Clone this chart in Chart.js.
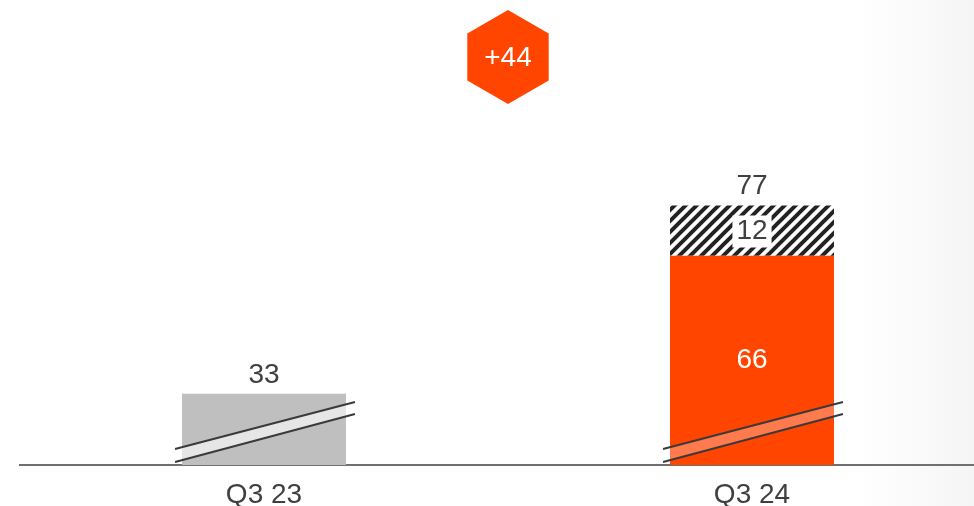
<!DOCTYPE html>
<html>
<head>
<meta charset="utf-8">
<script src="https://cdn.jsdelivr.net/npm/chart.js@4/dist/chart.umd.min.js"></script>
<style>
html, body { margin: 0; padding: 0; }
body {
  width: 974px; height: 506px; overflow: hidden;
  background: linear-gradient(to right, #ffffff 0%, #ffffff 88%, #f5f5f5 100%);
}
#wrap { position: relative; width: 1000px; height: 506px; overflow: hidden; }
</style>
</head>
<body>
<div id="wrap"><canvas id="grafico" width="1000" height="525"></canvas></div>
<script>
// datos
var categorias = ["Q3 23", "Q3 24"];
var valoresBase = [33, 66];
var valoresRayados = [null, 12];
var totales = [33, 77];
var diferencia = "+44";

var gris = "#bfbfbf";
var naranja = "#ff4500";
var texto = "#404040";
var fuente = "'Liberation Sans', Arial, sans-serif";

// patron rayado
function rayado() {
  var c = document.createElement("canvas");
  c.width = 11; c.height = 11;
  var g = c.getContext("2d");
  g.fillStyle = "#ffffff";
  g.fillRect(0, 0, 11, 11);
  g.strokeStyle = "#222222";
  g.lineWidth = 4;
  g.beginPath();
  g.moveTo(-2, 13); g.lineTo(13, -2);
  g.moveTo(-8, 8); g.lineTo(8, -8);
  g.moveTo(3, 19); g.lineTo(19, 3);
  g.stroke();
  return g.createPattern(c, "repeat");
}

var etiquetas = {
  id: "etiquetas",
  afterDatasetsDraw: function(chart) {
    var ctx = chart.ctx;
    var area = chart.chartArea;
    var base = chart.getDatasetMeta(0).data;
    var raya = chart.getDatasetMeta(1).data;
    ctx.save();

    // cortes del eje
    base.forEach(function(bar, i) {
      var izq = bar.x - bar.width / 2 - 7;
      var der = bar.x + bar.width / 2 + 9;
      var y0 = area.bottom;
      ctx.fillStyle = i === 0 ? "#e6e6e6" : "#ff7a4d";
      ctx.save();
      ctx.beginPath();
      ctx.rect(bar.x - bar.width / 2, area.top, bar.width, area.bottom - area.top);
      ctx.clip();
      ctx.beginPath();
      ctx.moveTo(izq, y0 - 16);
      ctx.lineTo(der, y0 - 63);
      ctx.lineTo(der, y0 - 51);
      ctx.lineTo(izq, y0 - 3);
      ctx.closePath();
      ctx.fill();
      ctx.restore();
      ctx.strokeStyle = "#3a3a3a";
      ctx.lineWidth = 2;
      ctx.beginPath();
      ctx.moveTo(izq, y0 - 16); ctx.lineTo(der, y0 - 63);
      ctx.moveTo(izq, y0 - 3); ctx.lineTo(der, y0 - 51);
      ctx.stroke();
    });

    ctx.font = "28px " + fuente;
    ctx.textAlign = "center";
    ctx.textBaseline = "middle";

    // totales arriba
    base.forEach(function(bar, i) {
      var top = valoresRayados[i] ? raya[i].y : bar.y;
      ctx.fillStyle = texto;
      ctx.fillText(String(totales[i]), bar.x, top - 19);
    });

    // valor dentro de la barra naranja
    var b = base[1];
    ctx.fillStyle = "#ffffff";
    ctx.fillText(String(valoresBase[1]), b.x, (b.y + Math.min(b.base, area.bottom)) / 2);

    // valor rayado con fondo blanco
    var r = raya[1];
    var cy = (r.y + r.base) / 2 + 1;
    var w = ctx.measureText(String(valoresRayados[1])).width + 8;
    ctx.fillStyle = "#ffffff";
    ctx.fillRect(r.x - w / 2, cy - 16, w, 32);
    ctx.fillStyle = texto;
    ctx.fillText(String(valoresRayados[1]), r.x, cy);

    // hexagono
    var hx = (base[0].x + base[1].x) / 2;
    var hy = 57, rad = 47;
    ctx.fillStyle = naranja;
    ctx.beginPath();
    for (var k = 0; k < 6; k++) {
      var ang = Math.PI / 180 * (60 * k - 90);
      var px = hx + rad * Math.cos(ang), py = hy + rad * Math.sin(ang);
      if (k === 0) ctx.moveTo(px, py); else ctx.lineTo(px, py);
    }
    ctx.closePath();
    ctx.fill();
    ctx.fillStyle = "#ffffff";
    ctx.fillText(diferencia, hx, hy + 1);

    ctx.restore();
  }
};

var lienzo = document.getElementById("grafico");
var grafico = new Chart(lienzo, {
  type: "bar",
  data: {
    labels: categorias,
    datasets: [
      {
        data: valoresBase,
        backgroundColor: [gris, naranja],
        barPercentage: 0.336,
        categoryPercentage: 1
      },
      {
        data: valoresRayados,
        backgroundColor: rayado(),
        barPercentage: 0.336,
        categoryPercentage: 1
      }
    ]
  },
  options: {
    responsive: false,
    animation: false,
    layout: { padding: { left: 20, right: 4, top: 130, bottom: 0 } },
    plugins: { legend: { display: false }, tooltip: { enabled: false } },
    scales: {
      x: {
        stacked: true,
        grid: { display: false, drawTicks: false },
        border: { display: true, color: "#707070", width: 2 },
        ticks: {
          color: texto,
          padding: 16,
          font: { family: fuente, size: 28, lineHeight: 1 }
        }
      },
      y: {
        stacked: true,
        display: false,
        min: 16,
        max: 96
      }
    }
  },
  plugins: [etiquetas]
});
</script>
</body>
</html>
